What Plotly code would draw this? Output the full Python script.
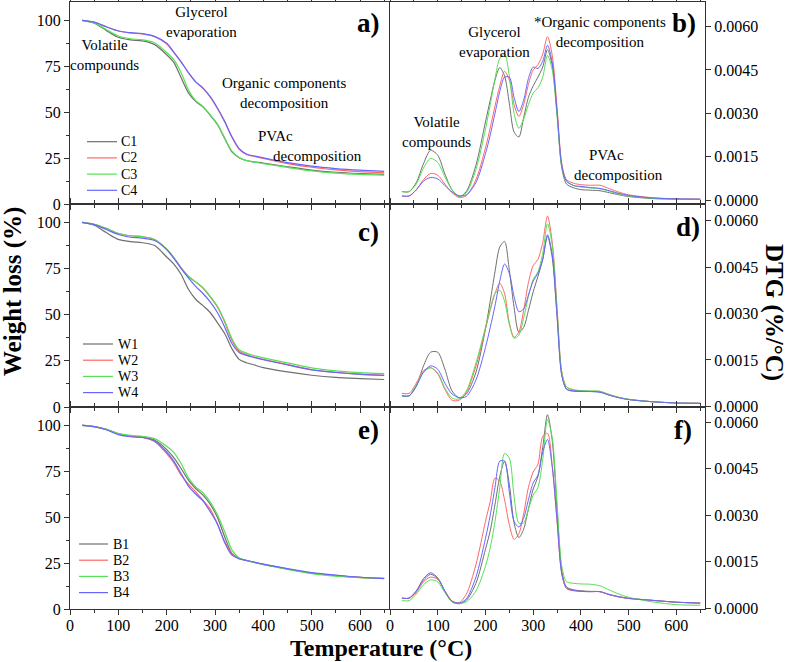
import plotly.graph_objects as go

# ---------------- data ----------------
T_tga = [25, 50, 75, 100, 125, 150, 175, 200, 215, 230, 245, 260, 275, 290, 305, 320,
         335, 350, 365, 380, 400, 450, 500, 550, 600, 650]

# panel a) weight loss (%)
C1_tga = [100, 98.5, 94.5, 90.8, 89.4, 88.8, 86.8, 81.3, 77.0, 68.7, 60.5, 55.9, 52.9, 48.4, 43.3, 35.7,
          28.4, 25.2, 23.7, 23.0, 22.3, 20.3, 18.5, 17.3, 16.6, 16.1]
C2_tga = [100, 99.0, 96.5, 94.2, 93.2, 92.6, 91.1, 87.3, 82.4, 77.3, 71.5, 66.5, 63.0, 58.3, 52.0, 44.8,
          36.4, 29.9, 27.0, 26.0, 24.8, 22.0, 20.0, 18.6, 17.6, 17.0]
C3_tga = [100, 98.6, 95.0, 91.5, 90.0, 89.4, 87.8, 82.5, 78.5, 71.5, 62.0, 56.3, 53.2, 48.6, 43.6, 36.0,
          28.8, 25.3, 23.6, 22.8, 22.0, 19.9, 18.0, 16.8, 16.1, 15.7]
C4_tga = [100, 99.0, 96.5, 94.2, 93.3, 92.8, 91.3, 87.5, 82.6, 77.4, 71.5, 66.5, 63.2, 58.5, 52.3, 45.0,
          36.6, 30.1, 27.2, 26.2, 25.1, 22.5, 20.6, 19.3, 18.4, 17.8]

# panel c)
W1_tga = [100, 98.5, 94.5, 90.8, 89.6, 89.0, 87.5, 81.3, 77.4, 71.8, 63.8, 58.4, 54.9, 51.2, 45.7, 39.8,
          31.6, 25.8, 24.0, 22.9, 21.3, 19.0, 17.2, 16.0, 15.4, 14.9]
W2_tga = [100, 99.0, 96.8, 94.0, 92.8, 92.3, 90.8, 85.5, 80.8, 75.4, 70.9, 67.8, 64.5, 59.7, 54.2, 46.1,
          36.2, 30.2, 28.4, 27.1, 25.8, 23.0, 20.2, 18.8, 17.8, 17.2]
W3_tga = [100, 99.0, 96.8, 94.0, 92.8, 92.3, 90.8, 85.7, 81.0, 75.2, 70.6, 67.8, 64.6, 60.0, 54.6, 46.6,
          37.0, 31.0, 29.2, 27.9, 26.6, 23.9, 21.2, 19.6, 18.6, 18.1]
W4_tga = [100, 98.8, 96.2, 93.5, 92.0, 91.5, 90.2, 85.3, 80.5, 75.0, 70.0, 65.4, 61.5, 57.0, 51.2, 43.4,
          34.4, 29.5, 28.0, 26.9, 25.6, 22.8, 20.1, 18.7, 17.7, 17.1]

# panel e)
B1_tga = [100, 99.3, 97.8, 95.5, 94.2, 93.6, 92.0, 86.8, 82.3, 76.5, 70.2, 65.6, 62.0, 57.1, 49.9, 39.4,
          30.3, 27.6, 26.4, 25.5, 24.3, 21.8, 19.6, 18.2, 17.2, 16.6]
B2_tga = [100, 99.3, 97.8, 95.3, 94.0, 93.5, 91.2, 84.6, 79.6, 72.9, 68.0, 63.8, 59.3, 54.4, 46.3, 36.7,
          30.0, 27.5, 26.4, 25.5, 24.3, 21.8, 19.6, 18.2, 17.2, 16.6]
B3_tga = [100, 99.3, 97.8, 95.5, 94.5, 94.0, 92.8, 88.6, 85.2, 79.2, 71.4, 66.5, 63.3, 58.4, 51.3, 42.1,
          32.2, 27.8, 26.4, 25.3, 24.2, 21.6, 19.3, 17.9, 17.1, 16.8]
B4_tga = [100, 99.3, 97.6, 95.0, 93.8, 93.4, 91.5, 85.5, 80.4, 73.8, 66.9, 62.6, 58.9, 53.0, 46.3, 36.2,
          29.3, 27.3, 26.4, 25.6, 24.4, 22.0, 19.8, 18.4, 17.3, 16.5]

T_dtg = [25, 40, 55, 70, 85, 100, 115, 130, 145, 160, 180, 200, 210, 220, 230, 240, 250, 260, 270, 280,
         290, 300, 310, 320, 330, 340, 350, 360, 370, 385, 400, 420, 440, 460, 480, 500, 550, 600, 650]

# panel b) DTG (%/°C)
C1_dtg = [0.00029, 0.00029, 0.00060, 0.00125, 0.00172, 0.00155, 0.00090, 0.00035, 0.00011, 0.00030,
          0.00120, 0.00270, 0.00345, 0.00415, 0.00458, 0.00430, 0.00335, 0.00235, 0.00218, 0.00285,
          0.00355, 0.00395, 0.00425, 0.00460, 0.00520, 0.00465, 0.00300, 0.00110, 0.00055, 0.00042,
          0.00036, 0.00034, 0.00032, 0.00025, 0.00018, 0.00012, 0.00005, 0.00003, 0.00002]
C2_dtg = [0.00014, 0.00014, 0.00035, 0.00070, 0.00092, 0.00086, 0.00055, 0.00025, 0.00009, 0.00015,
          0.00070, 0.00180, 0.00250, 0.00325, 0.00395, 0.00445, 0.00415, 0.00330, 0.00289, 0.00330,
          0.00400, 0.00450, 0.00468, 0.00505, 0.00565, 0.00500, 0.00320, 0.00125, 0.00070, 0.00058,
          0.00053, 0.00051, 0.00051, 0.00039, 0.00027, 0.00018, 0.00008, 0.00004, 0.00003]
C3_dtg = [0.00029, 0.00029, 0.00055, 0.00110, 0.00144, 0.00130, 0.00080, 0.00035, 0.00012, 0.00025,
          0.00105, 0.00245, 0.00330, 0.00420, 0.00490, 0.00505, 0.00430, 0.00300, 0.00248, 0.00280,
          0.00330, 0.00370, 0.00388, 0.00425, 0.00500, 0.00450, 0.00290, 0.00115, 0.00065, 0.00050,
          0.00045, 0.00042, 0.00039, 0.00030, 0.00020, 0.00014, 0.00006, 0.00003, 0.00002]
C4_dtg = [0.00014, 0.00014, 0.00035, 0.00065, 0.00078, 0.00073, 0.00050, 0.00028, 0.00015, 0.00018,
          0.00060, 0.00160, 0.00225, 0.00300, 0.00375, 0.00425, 0.00425, 0.00355, 0.00306, 0.00345,
          0.00420, 0.00460, 0.00455, 0.00480, 0.00535, 0.00475, 0.00305, 0.00120, 0.00065, 0.00050,
          0.00047, 0.00043, 0.00040, 0.00032, 0.00023, 0.00016, 0.00007, 0.00004, 0.00003]

# panel d)
W1_dtg = [0.00034, 0.00034, 0.00065, 0.00130, 0.00175, 0.00175, 0.00120, 0.00050, 0.00028, 0.00040,
          0.00110, 0.00250, 0.00340, 0.00435, 0.00515, 0.00533, 0.00440, 0.00320, 0.00240, 0.00255,
          0.00310, 0.00370, 0.00420, 0.00475, 0.00550, 0.00480, 0.00290, 0.00100, 0.00055, 0.00049,
          0.00048, 0.00048, 0.00046, 0.00036, 0.00028, 0.00022, 0.00015, 0.00011, 0.00010]
W2_dtg = [0.00042, 0.00042, 0.00075, 0.00115, 0.00125, 0.00105, 0.00055, 0.00020, 0.00020, 0.00045,
          0.00130, 0.00250, 0.00310, 0.00365, 0.00398, 0.00365, 0.00270, 0.00223, 0.00240, 0.00310,
          0.00400, 0.00455, 0.00475, 0.00530, 0.00615, 0.00530, 0.00320, 0.00110, 0.00062, 0.00053,
          0.00050, 0.00049, 0.00048, 0.00038, 0.00029, 0.00023, 0.00015, 0.00011, 0.00010]
W3_dtg = [0.00034, 0.00034, 0.00070, 0.00110, 0.00125, 0.00108, 0.00060, 0.00027, 0.00024, 0.00050,
          0.00140, 0.00255, 0.00315, 0.00365, 0.00375, 0.00340, 0.00265, 0.00220, 0.00230, 0.00285,
          0.00355, 0.00410, 0.00435, 0.00495, 0.00590, 0.00520, 0.00310, 0.00110, 0.00063, 0.00054,
          0.00051, 0.00050, 0.00049, 0.00038, 0.00029, 0.00023, 0.00015, 0.00011, 0.00010]
W4_dtg = [0.00034, 0.00034, 0.00065, 0.00110, 0.00131, 0.00120, 0.00075, 0.00040, 0.00028, 0.00032,
          0.00085, 0.00190, 0.00255, 0.00325, 0.00405, 0.00460, 0.00430, 0.00355, 0.00306, 0.00315,
          0.00360, 0.00405, 0.00430, 0.00475, 0.00555, 0.00490, 0.00295, 0.00100, 0.00056, 0.00050,
          0.00049, 0.00048, 0.00046, 0.00036, 0.00028, 0.00022, 0.00015, 0.00011, 0.00010]

# panel f)
B1_dtg = [0.00032, 0.00032, 0.00055, 0.00095, 0.00114, 0.00098, 0.00055, 0.00020, 0.00014, 0.00025,
          0.00080, 0.00190, 0.00250, 0.00335, 0.00425, 0.00475, 0.00400, 0.00275, 0.00228, 0.00255,
          0.00320, 0.00385, 0.00425, 0.00520, 0.00625, 0.00540, 0.00320, 0.00120, 0.00068, 0.00059,
          0.00056, 0.00054, 0.00053, 0.00044, 0.00037, 0.00032, 0.00025, 0.00019, 0.00016]
B2_dtg = [0.00032, 0.00032, 0.00050, 0.00085, 0.00100, 0.00093, 0.00055, 0.00023, 0.00018, 0.00045,
          0.00140, 0.00280, 0.00345, 0.00420, 0.00410, 0.00350, 0.00270, 0.00222, 0.00240, 0.00305,
          0.00390, 0.00440, 0.00465, 0.00555, 0.00565, 0.00460, 0.00280, 0.00110, 0.00063, 0.00056,
          0.00054, 0.00053, 0.00053, 0.00043, 0.00036, 0.00031, 0.00025, 0.00019, 0.00016]
B3_dtg = [0.00024, 0.00024, 0.00045, 0.00075, 0.00091, 0.00085, 0.00050, 0.00020, 0.00015, 0.00020,
          0.00055, 0.00135, 0.00195, 0.00280, 0.00390, 0.00500, 0.00485, 0.00360, 0.00275, 0.00275,
          0.00320, 0.00365, 0.00390, 0.00480, 0.00610, 0.00550, 0.00340, 0.00135, 0.00085, 0.00080,
          0.00078, 0.00077, 0.00072, 0.00058, 0.00045, 0.00035, 0.00020, 0.00011, 0.00009]
B4_dtg = [0.00032, 0.00032, 0.00055, 0.00090, 0.00109, 0.00095, 0.00055, 0.00022, 0.00016, 0.00030,
          0.00100, 0.00225, 0.00300, 0.00390, 0.00475, 0.00475, 0.00375, 0.00280, 0.00262, 0.00290,
          0.00350, 0.00405, 0.00430, 0.00505, 0.00545, 0.00455, 0.00285, 0.00110, 0.00064, 0.00057,
          0.00054, 0.00053, 0.00053, 0.00043, 0.00036, 0.00031, 0.00025, 0.00019, 0.00016]

x_ticks = [0, 100, 200, 300, 400, 500, 600]
tga_ticks = [0, 25, 50, 75, 100]
dtg_ticks = [0.0, 0.0015, 0.0030, 0.0045, 0.0060]

# ---------------- styling helpers ----------------
W, H = 790, 662
def fx(p):
    return p / W
def fy(p):
    return 1 - p / H

COLORS = ["#6f6f6f", "#ff6666", "#55e055", "#6666ff"]
FONT = "Liberation Serif, Times New Roman, serif"
AX = "#333333"
NB = "\u00a0"

fig = go.Figure()

panels = [
    # (xaxis id, yaxis id, T, series list, names, legend position (line x0, line x1, text x, first row y))
    ("x", "y", T_tga, [C1_tga, C2_tga, C3_tga, C4_tga], ["C1", "C2", "C3", "C4"], (87, 117, 119, 141.7)),
    ("x2", "y2", T_dtg, [C1_dtg, C2_dtg, C3_dtg, C4_dtg], ["C1", "C2", "C3", "C4"], None),
    ("x3", "y3", T_tga, [W1_tga, W2_tga, W3_tga, W4_tga], ["W1", "W2", "W3", "W4"], (83, 113, 116, 344)),
    ("x4", "y4", T_dtg, [W1_dtg, W2_dtg, W3_dtg, W4_dtg], ["W1", "W2", "W3", "W4"], None),
    ("x5", "y5", T_tga, [B1_tga, B2_tga, B3_tga, B4_tga], ["B1", "B2", "B3", "B4"], (79, 108, 111, 544)),
    ("x6", "y6", T_dtg, [B1_dtg, B2_dtg, B3_dtg, B4_dtg], ["B1", "B2", "B3", "B4"], None),
]

shapes = []
anns = []

def txt(s, x, y, size=15, bold=False, angle=0, xanchor="center", align="center"):
    anns.append(dict(text=("<b>%s</b>" % s) if bold else s, x=fx(x), y=fy(y),
                     xref="paper", yref="paper", showarrow=False,
                     xanchor=xanchor, yanchor="middle", textangle=angle, align=align,
                     font=dict(family=FONT, size=size, color="black")))

for xa, ya, T, series, names, leg in panels:
    for i, (s, nm, col) in enumerate(zip(series, names, COLORS)):
        fig.add_trace(go.Scatter(
            x=T, y=s, mode="lines", name=nm, xaxis=xa, yaxis=ya,
            line=dict(color=col, width=1.2 if leg else 1.0, shape="spline", smoothing=0.8),
            showlegend=False, hoverinfo="skip"))
        if leg:
            x0, x1, xt, y0 = leg
            yy = y0 + i * 16.2
            shapes.append(dict(type="line", xref="paper", yref="paper",
                               x0=fx(x0), x1=fx(x1), y0=fy(yy), y1=fy(yy),
                               line=dict(color=col, width=1.2)))
            txt(nm, xt, yy, size=14, xanchor="left")

xdomL = [fx(70), fx(389)]
xdomR = [fx(390), fx(705)]
rows = [(2, 204), (204, 407), (407, 609)]

def xaxis(dom, anchor, labels):
    d = dict(domain=dom, anchor=anchor, range=[0, 660], tickvals=x_ticks,
             showticklabels=labels, ticks="outside", ticklen=5, tickcolor=AX,
             minor=dict(dtick=50, tick0=0, ticks="outside", ticklen=3, tickcolor=AX),
             showline=True, linecolor=AX, linewidth=1, mirror="allticks",
             showgrid=False, zeroline=False,
             tickfont=dict(family=FONT, size=16, color="black"))
    if labels:
        d["ticklabelstandoff"] = -3
    return d

def yaxis_left(row, anchor):
    top, bot = rows[row]
    return dict(domain=[fy(bot), fy(top)], anchor=anchor, range=[0, 110], tickvals=tga_ticks,
                ticks="outside", ticklen=5, tickcolor=AX,
                minor=dict(dtick=12.5, tick0=0, ticks="outside", ticklen=3, tickcolor=AX),
                showline=True, linecolor=AX, linewidth=1, mirror=True,
                showgrid=False, zeroline=False,
                tickfont=dict(family=FONT, size=16, color="black"))

def yaxis_right(row, anchor, rng):
    top, bot = rows[row]
    return dict(domain=[fy(bot), fy(top)], anchor=anchor, range=rng, tickvals=dtg_ticks,
                tickformat=".4f", side="right",
                ticks="outside", ticklen=5, tickcolor=AX,
                showline=True, linecolor=AX, linewidth=1, mirror=True,
                showgrid=False, zeroline=False,
                tickfont=dict(family=FONT, size=16, color="black"))

# panel a annotations
txt("Volatile<br>compounds", 105, 54.8)
txt("Glycerol<br>evaporation", 202, 22.3)
txt("Organic components<br>decomposition", 284, 93.3)
txt("PVAc<br>" + NB * 4 + "decomposition", 256, 146, xanchor="left", align="left")
# panel b annotations
txt("Volatile<br>compounds", 436, 132.3)
txt("Glycerol<br>evaporation", 494, 42.3)
txt("*Organic components<br>decomposition", 600, 32)
txt(NB * 4 + "PVAc<br>decomposition", 572, 165, xanchor="left", align="left")

# panel letters
for s, x, y in [("a)", 368, 23), ("b)", 684, 23), ("c)", 368, 232),
                ("d)", 688, 227), ("e)", 368, 430), ("f)", 683, 430)]:
    txt(s, x, y, size=27, bold=True)

# axis titles
txt("Weight loss (%)", 13, 292, size=25, bold=True, angle=-90)
txt("DTG (%/°C)", 774, 312, size=25, bold=True, angle=90)
txt("Temperature (°C)", 381, 648, size=24, bold=True)

fig.update_layout(
    width=W, height=H,
    margin=dict(l=0, r=0, t=0, b=0, autoexpand=False),
    paper_bgcolor="white", plot_bgcolor="white",
    font=dict(family=FONT, size=15, color="black"),
    showlegend=False,
    xaxis=xaxis(xdomL, "y", False),
    xaxis2=xaxis(xdomR, "y2", False),
    xaxis3=xaxis(xdomL, "y3", False),
    xaxis4=xaxis(xdomR, "y4", False),
    xaxis5=xaxis(xdomL, "y5", True),
    xaxis6=xaxis(xdomR, "y6", True),
    yaxis=yaxis_left(0, "x"),
    yaxis3=yaxis_left(1, "x3"),
    yaxis5=yaxis_left(2, "x5"),
    yaxis2=yaxis_right(0, "x2", [-0.000138, 0.00685]),
    yaxis4=yaxis_right(1, "x4", [-0.00002, 0.00654]),
    yaxis6=yaxis_right(2, "x6", [-0.00003, 0.0065]),
    annotations=anns,
    shapes=shapes,
)

# remove the browser's default 8px page margin so the figure sits at the window origin
fig.write_html("out.html",
               config={"displayModeBar": False},
               post_script="document.body.style.margin='0px';document.body.style.padding='0px';")
